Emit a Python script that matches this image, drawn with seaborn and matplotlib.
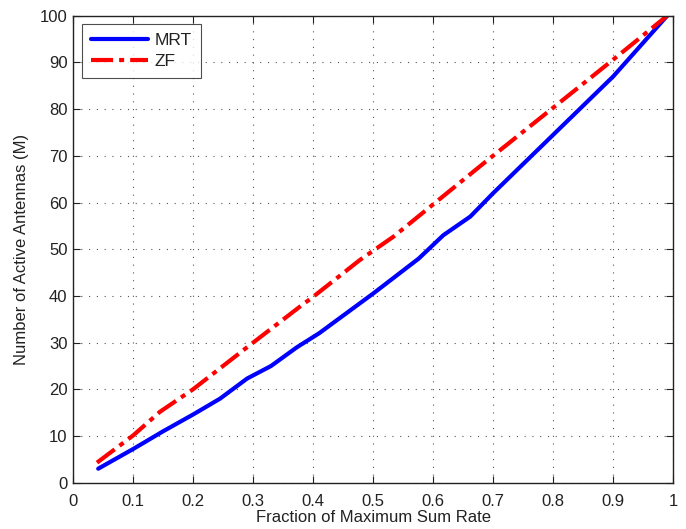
import matplotlib
matplotlib.use("Agg")
import matplotlib.pyplot as plt
import seaborn as sns
import pandas as pd

# Fraction of maximum sum rate vs. number of active antennas
mrt_x = [0.042, 0.1, 0.15, 0.2, 0.245, 0.29, 0.33, 0.373, 0.41, 0.5, 0.576, 0.617, 0.662, 0.70, 0.80, 0.90, 0.99]
mrt_y = [3.0, 7.2, 11.0, 14.6, 18.0, 22.3, 25.0, 29.0, 32.0, 40.5, 48.0, 53.0, 57.0, 62.0, 74.5, 87.0, 100.0]

zf_x = [0.04, 0.1, 0.145, 0.2, 0.29, 0.378, 0.4, 0.478, 0.534, 0.6, 0.689, 0.8, 0.9, 0.99]
zf_y = [4.3, 10.1, 15.2, 20.0, 29.0, 37.7, 39.8, 47.7, 52.7, 59.6, 68.9, 80.3, 90.6, 100.0]

x_ticks = [0, 0.1, 0.2, 0.3, 0.4, 0.5, 0.6, 0.7, 0.8, 0.9, 1]
x_tick_labels = ["0", "0.1", "0.2", "0.3", "0.4", "0.5", "0.6", "0.7", "0.8", "0.9", "1"]
y_ticks = [0, 10, 20, 30, 40, 50, 60, 70, 80, 90, 100]

df = pd.concat([
    pd.DataFrame({"rate": mrt_x, "antennas": mrt_y, "scheme": "MRT"}),
    pd.DataFrame({"rate": zf_x, "antennas": zf_y, "scheme": "ZF"}),
])

sns.set_theme(style="white")
plt.rcParams["font.family"] = ["Liberation Sans", "DejaVu Sans"]
plt.rcParams["text.color"] = "#222222"
plt.rcParams["axes.labelcolor"] = "#222222"

fig = plt.figure(figsize=(6.86, 5.29), dpi=100)
ax = fig.add_axes([0.1064, 0.0875, 0.875, 0.8828])

sns.lineplot(data=df, x="rate", y="antennas", hue="scheme", style="scheme",
             palette={"MRT": "#0000ff", "ZF": "#ff0000"},
             dashes={"MRT": "", "ZF": (5.3, 1.45, 1.2, 1.45)},
             linewidth=3, sort=False, estimator=None, ax=ax)

ax.set_xlim(0, 1)
ax.set_ylim(0, 100)
ax.set_xticks(x_ticks)
ax.set_xticklabels(x_tick_labels)
ax.set_yticks(y_ticks)
ax.grid(True, linestyle=(0, (1, 6)), color="#555555", linewidth=0.8)
ax.tick_params(direction="in", length=5, width=0.8, labelsize=12, colors="#222222",
               top=True, right=True, bottom=True, left=True, pad=4)
ax.tick_params(axis="x", pad=8)
for s in ax.spines.values():
    s.set_color("#222222")
    s.set_linewidth(1.0)
ax.set_xlabel("Fraction of Maximum Sum Rate", fontsize=12, labelpad=1)
ax.set_ylabel("Number of Active Antennas (M)", fontsize=12, labelpad=8)

handles, labels = ax.get_legend_handles_labels()
leg = ax.legend(handles, labels, loc="upper left", bbox_to_anchor=(0.015, 0.982),
                borderaxespad=0, fontsize=12.5, frameon=True, fancybox=False,
                edgecolor="#222222", handlelength=3.3, borderpad=0.5,
                labelspacing=0.35, handletextpad=0.4)
leg.get_frame().set_linewidth(0.8)

fig.savefig("out.png", dpi=100)
